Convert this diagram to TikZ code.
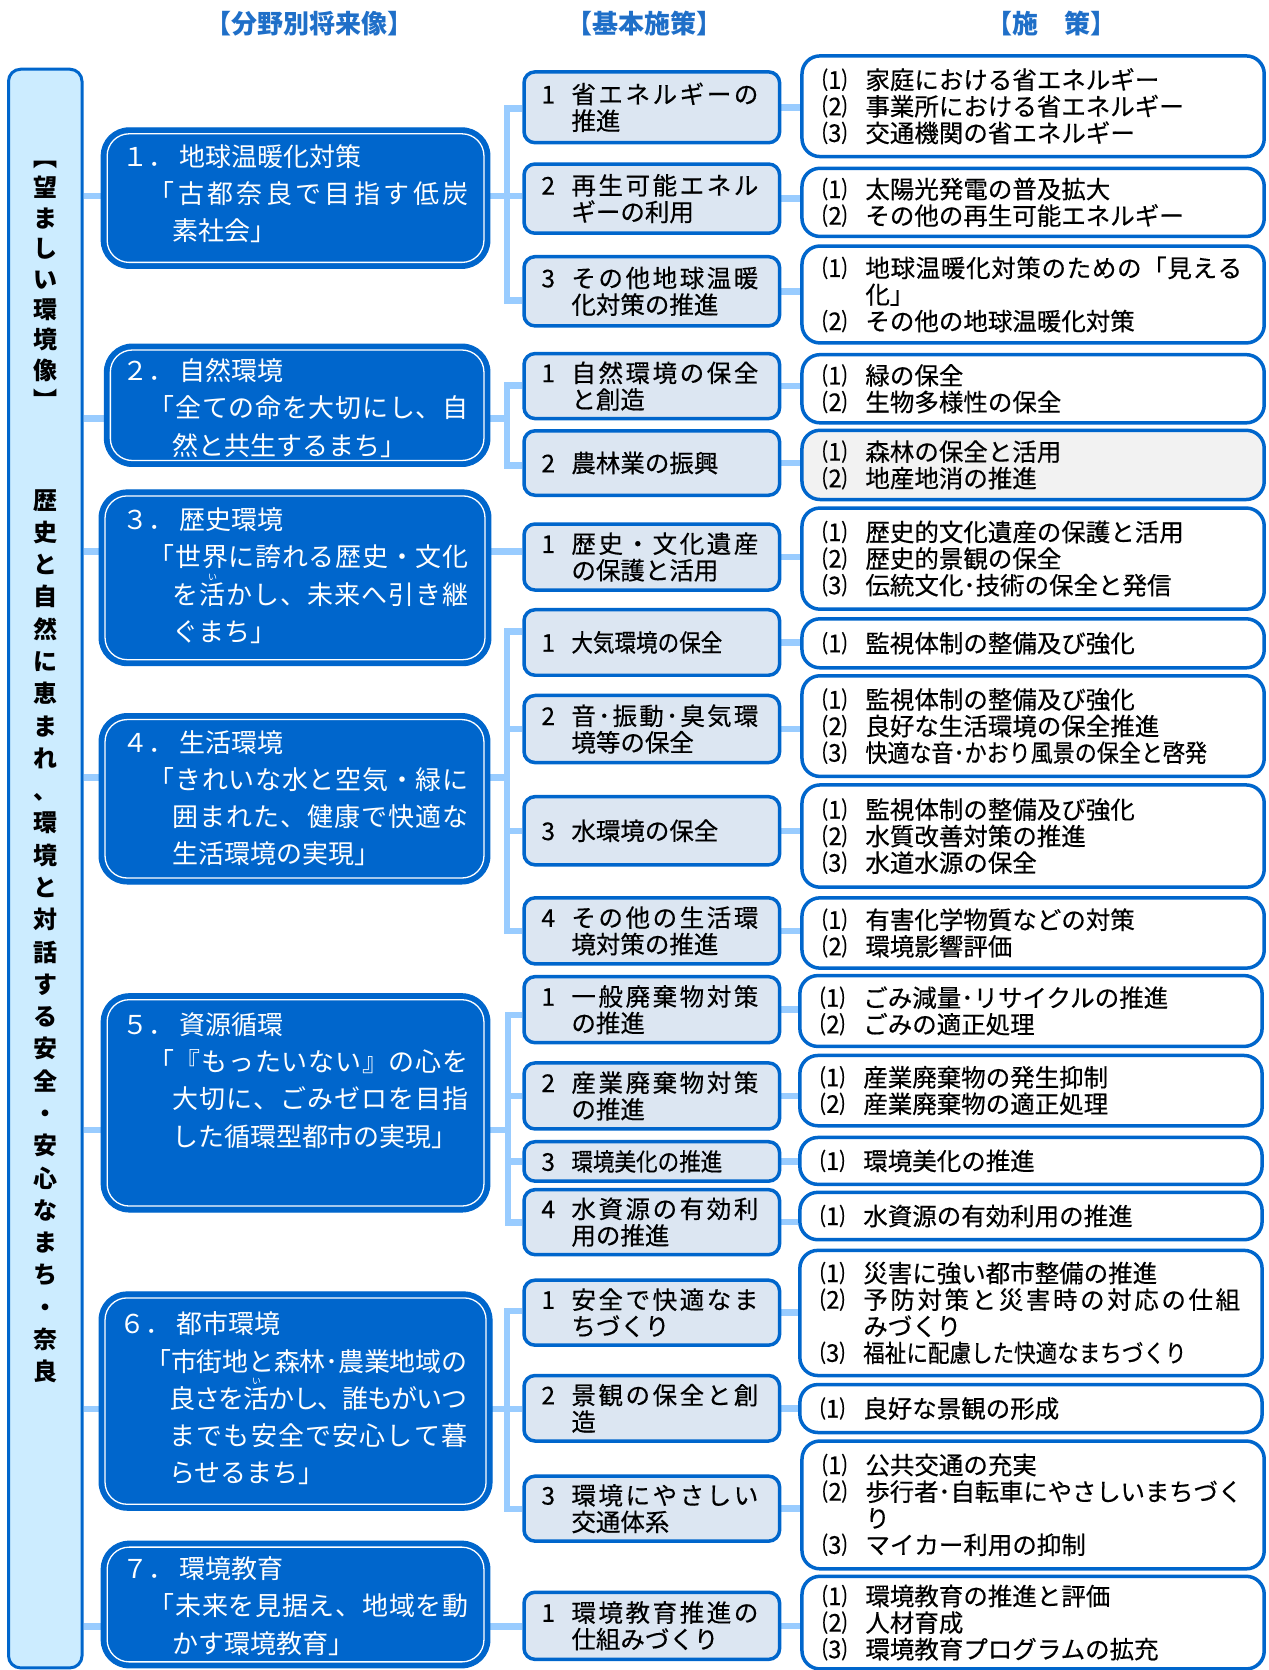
\documentclass[tikz,border=0pt]{standalone}
\usepackage{fontspec}
\usepackage{graphicx}
\setmainfont{Noto Sans CJK JP}
\newfontfamily\blk{Noto Sans CJK JP}[FakeBold=0.4]
\usetikzlibrary{fit}
\pgfdeclarelayer{bg}
\pgfsetlayers{bg,main}
\definecolor{bdr}{HTML}{0066CC}
\definecolor{barfill}{HTML}{CCECFF}
\definecolor{midfill}{HTML}{DCE6F2}
\definecolor{connc}{HTML}{99CCFF}
\definecolor{grayfill}{HTML}{F2F2F2}
\definecolor{hdr}{HTML}{1F6FC8}
\newcommand\jglue{\hskip 0pt plus 1fil minus 4pt\relax}
\def\jfaux#1#2\relax{#1\ifx\relax#2\relax\else\jglue\jfaux#2\relax\fi}
\newcommand\jf[2]{\hbox to #1{\jfaux#2\relax}}
\newcommand\rb[2]{\leavevmode\rlap{\hbox to 1em{\hss\raisebox{0.92em}{\fontsize{9}{9}\selectfont #2}\hss}}#1}
\newcommand\mnum[1]{\makebox[30pt][l]{#1}}
\newcommand\mind{\hspace*{30pt}}
\newcommand\rn[1]{\makebox[43pt][l]{#1}}
\newcommand\rind{\hspace*{43pt}}
\newcommand\bA{\hspace*{26pt}}
\newcommand\bB{\hspace*{50pt}}
\tikzset{
 conn/.style={draw=connc, line width=6.5pt},
 barbox/.style={draw=bdr, line width=3pt, fill=barfill, rounded corners=12pt, inner sep=0pt},
 bluebox/.style={draw=bdr, line width=1pt, fill=bdr, rounded corners=28pt, inner sep=0pt},
 innerw/.style={draw=white, line width=1.3pt, rounded corners=22pt},
 midbox/.style={draw=bdr, line width=3.5pt, fill=midfill, rounded corners=11pt, inner sep=0pt},
 polbox/.style={draw=bdr, line width=3.5pt, fill=white, rounded corners=18pt, inner sep=0pt},
 bluetext/.style={anchor=west, align=left, inner sep=0pt, text=white, font=\fontsize{26}{37.3}\selectfont},
 midtext/.style={anchor=west, align=left, inner sep=0pt, font=\blk\fontsize{24.5}{26.6}\selectfont},
 bartext/.style={align=center, inner sep=0pt, font=\bfseries\fontsize{24}{32.3}\selectfont},
 hdrtext/.style={text=hdr, inner sep=0pt, font=\bfseries\fontsize{26}{28}\selectfont},
}
\begin{document}
\begin{tikzpicture}[x=1.0655pt, y=-1.0655pt]
\useasboundingbox (0,0) rectangle (1191,1568);

% headers
\node[hdrtext] (h1) at (291,22) {【分野別将来像】};
\node[hdrtext] (h2) at (605,22) {【基本施策】};
\node[hdrtext] (h3) at (987,22) {【施　策】};

% left bar
\node[barbox, fit={(8,65) (77,1566)}] (bar) {};
\node[bartext, font=\bfseries\fontsize{24}{30.4}\selectfont] (bt1) at (42.5,268) {︻\\望\\ま\\し\\い\\環\\境\\像\\︼};
\node[bartext] (bt2) at (42.5,879) {歴\\史\\と\\自\\然\\に\\恵\\ま\\れ\\、\\環\\境\\と\\対\\話\\す\\る\\安\\全\\・\\安\\心\\な\\ま\\ち\\・\\奈\\良};

% blue boxes
\node[bluebox, fit={(95,120) (460,252)}] (b1) {};
\node[bluebox, fit={(98,323) (460,438)}] (b2) {};
\node[bluebox, fit={(93,460) (461,625)}] (b3) {};
\node[bluebox, fit={(93,670) (460,830)}] (b4) {};
\node[bluebox, fit={(95,933) (460,1138)}] (b5) {};
\node[bluebox, fit={(93,1213) (462,1418)}] (b6) {};
\node[bluebox, fit={(95,1447) (460,1566)}] (b7) {};
\foreach \n in {b1,b2,b3,b4,b5,b6,b7}
  \draw[innerw] ([shift={(6.5pt,-6.5pt)}]\n.north west) rectangle ([shift={(-6.5pt,6.5pt)}]\n.south east);

\node[bluetext] (b1t) at (115,182) {１．\hspace{5pt}地球温暖化対策\\\bA\jf{320pt}{「古都奈良で目指す低炭}\\\bB 素社会」};
\node[bluetext] (b2t) at (115,383) {２．\hspace{5pt}自然環境\\\bA\jf{320pt}{「全ての命を大切にし、自}\\\bB 然と共生するまち」};
\node[bluetext] (b3t) at (115,540.5) {３．\hspace{5pt}歴史環境\\\bA\jf{320pt}{「世界に誇れる歴史・文化}\\\bB\jf{296pt}{を{\rb{活}{い}}かし、未来へ引き継}\\\bB ぐまち」};
\node[bluetext] (b4t) at (115,749.5) {４．\hspace{5pt}生活環境\\\bA\jf{320pt}{「きれいな水と空気・緑に}\\\bB\jf{296pt}{囲まれた、健康で快適な}\\\bB 生活環境の実現」};
\node[bluetext] (b5t) at (115,1014.5) {５．\hspace{5pt}資源循環\\\bA\jf{320pt}{{「『}もったいない』の心を}\\\bB\jf{296pt}{大切に、ごみゼロを目指}\\\bB\jf{285pt}{した循環型都市の実現」}};
\node[bluetext] (b6t) at (112,1313) {６．\hspace{5pt}都市環境\\\bA\jf{322pt}{「市街地と森林･農業地域の}\\\bB\jf{298pt}{良さを{\rb{活}{い}}かし、誰もがいつ}\\\bB\jf{298pt}{までも安全で安心して暮}\\\bB らせるまち」};
\node[bluetext] (b7t) at (115,1508) {７．\hspace{5pt}環境教育\\\bA\jf{320pt}{「未来を見据え、地域を動}\\\bB かす環境教育」};

% middle boxes
\node[midbox, fit={(492,67.5) (732,134)}] (m11) {};
\node[midbox, fit={(492,154) (732,219)}] (m12) {};
\node[midbox, fit={(492,241) (732,306)}] (m13) {};
\node[midbox, fit={(492,332) (732,393)}] (m21) {};
\node[midbox, fit={(492,404.5) (732,465)}] (m22) {};
\node[midbox, fit={(492,492) (732,554)}] (m31) {};
\node[midbox, fit={(492,572.5) (732,634)}] (m41) {};
\node[midbox, fit={(492,653) (732,716)}] (m42) {};
\node[midbox, fit={(492,748) (732,812)}] (m43) {};
\node[midbox, fit={(492,843) (732,905)}] (m44) {};
\node[midbox, fit={(492,917) (732,979)}] (m51) {};
\node[midbox, fit={(492,998) (732,1060)}] (m52) {};
\node[midbox, fit={(492,1072) (732,1109)}] (m53) {};
\node[midbox, fit={(492,1117) (732,1178)}] (m54) {};
\node[midbox, fit={(492,1202) (732,1263)}] (m61) {};
\node[midbox, fit={(492,1291.5) (732,1353)}] (m62) {};
\node[midbox, fit={(492,1386) (732,1447)}] (m63) {};
\node[midbox, fit={(492,1495) (732,1558)}] (m71) {};

\node[midtext] (m11t) at ([xshift=19pt]m11.west) {\mnum{1}\jf{187pt}{省エネルギーの}\\\mind 推進};
\node[midtext] (m12t) at ([xshift=19pt]m12.west) {\mnum{2}\jf{187pt}{再生可能エネル}\\\mind ギーの利用};
\node[midtext] (m13t) at ([xshift=19pt]m13.west) {\mnum{3}\jf{187pt}{その他地球温暖}\\\mind 化対策の推進};
\node[midtext] (m21t) at ([xshift=19pt]m21.west) {\mnum{1}\jf{187pt}{自然環境の保全}\\\mind と創造};
\node[midtext] (m22t) at ([xshift=19pt]m22.west) {\mnum{2}農林業の振興};
\node[midtext] (m31t) at ([xshift=19pt]m31.west) {\mnum{1}\jf{187pt}{歴史・文化遺産}\\\mind の保護と活用};
\node[midtext] (m41t) at ([xshift=19pt]m41.west) {\mnum{1}\scalebox{0.88}[1]{大気環境の保全}};
\node[midtext] (m42t) at ([xshift=19pt]m42.west) {\mnum{2}\jf{187pt}{音･振動･臭気環}\\\mind 境等の保全};
\node[midtext] (m43t) at ([xshift=19pt]m43.west) {\mnum{3}水環境の保全};
\node[midtext] (m44t) at ([xshift=19pt]m44.west) {\mnum{4}\jf{187pt}{その他の生活環}\\\mind 境対策の推進};
\node[midtext] (m51t) at ([xshift=19pt]m51.west) {\mnum{1}\jf{187pt}{一般廃棄物対策}\\\mind の推進};
\node[midtext] (m52t) at ([xshift=19pt]m52.west) {\mnum{2}\jf{187pt}{産業廃棄物対策}\\\mind の推進};
\node[midtext] (m53t) at ([xshift=19pt]m53.west) {\mnum{3}\scalebox{0.88}[1]{環境美化の推進}};
\node[midtext] (m54t) at ([xshift=19pt]m54.west) {\mnum{4}\jf{187pt}{水資源の有効利}\\\mind 用の推進};
\node[midtext] (m61t) at ([xshift=19pt]m61.west) {\mnum{1}\jf{187pt}{安全で快適なま}\\\mind ちづくり};
\node[midtext] (m62t) at ([xshift=19pt]m62.west) {\mnum{2}\jf{187pt}{景観の保全と創}\\\mind 造};
\node[midtext] (m63t) at ([xshift=19pt]m63.west) {\mnum{3}\jf{187pt}{環境にやさしい}\\\mind 交通体系};
\node[midtext] (m71t) at ([xshift=19pt]m71.west) {\mnum{1}\jf{187pt}{環境教育推進の}\\\mind 仕組みづくり};

% policy boxes
\node[polbox, fit={(753,52.5) (1187,147)}] (r11) {};
\node[polbox, fit={(753,158) (1187,222)}] (r12) {};
\node[polbox, fit={(753,231) (1187,322)}] (r13) {};
\node[polbox, fit={(753,333) (1187,397)}] (r21) {};
\node[polbox, fill=grayfill, fit={(753,404) (1187,469)}] (r22) {};
\node[polbox, fit={(753,477) (1187,572)}] (r31) {};
\node[polbox, fit={(753,581) (1187,627)}] (r41) {};
\node[polbox, fit={(753,634.5) (1187,729)}] (r42) {};
\node[polbox, fit={(753,737) (1187,833)}] (r43) {};
\node[polbox, fit={(753,843) (1187,909)}] (r44) {};
\node[polbox, fit={(751,916) (1185,982.5)}] (r51) {};
\node[polbox, fit={(751,991) (1185,1057)}] (r52) {};
\node[polbox, fit={(751,1068) (1185,1112)}] (r53) {};
\node[polbox, fit={(751,1119.5) (1185,1164)}] (r54) {};
\node[polbox, fit={(751,1174) (1185,1291.5)}] (r61) {};
\node[polbox, fit={(751,1300) (1185,1345)}] (r62) {};
\node[polbox, fit={(753,1353) (1187,1473)}] (r63) {};
\node[polbox, fit={(753,1480) (1187,1567)}] (r71) {};

\node[midtext] (r11t) at ([xshift=22pt]r11.west) {\rn{⑴}家庭における省エネルギー\\\rn{⑵}事業所における省エネルギー\\\rn{⑶}交通機関の省エネルギー};
\node[midtext] (r12t) at ([xshift=22pt]r12.west) {\rn{⑴}太陽光発電の普及拡大\\\rn{⑵}その他の再生可能エネルギー};
\node[midtext] (r13t) at ([xshift=22pt]r13.west) {\rn{⑴}\jf{377pt}{地球温暖化対策のための「見える}\\\rind 化」\\\rn{⑵}その他の地球温暖化対策};
\node[midtext] (r21t) at ([xshift=22pt]r21.west) {\rn{⑴}緑の保全\\\rn{⑵}生物多様性の保全};
\node[midtext] (r22t) at ([xshift=22pt]r22.west) {\rn{⑴}森林の保全と活用\\\rn{⑵}地産地消の推進};
\node[midtext] (r31t) at ([xshift=22pt]r31.west) {\rn{⑴}歴史的文化遺産の保護と活用\\\rn{⑵}歴史的景観の保全\\\rn{⑶}伝統文化･技術の保全と発信};
\node[midtext] (r41t) at ([xshift=22pt]r41.west) {\rn{⑴}監視体制の整備及び強化};
\node[midtext] (r42t) at ([xshift=22pt]r42.west) {\rn{⑴}監視体制の整備及び強化\\\rn{⑵}良好な生活環境の保全推進\\\rn{⑶}\scalebox{0.9}[1]{快適な音･かおり風景の保全と啓発}};
\node[midtext] (r43t) at ([xshift=22pt]r43.west) {\rn{⑴}監視体制の整備及び強化\\\rn{⑵}水質改善対策の推進\\\rn{⑶}水道水源の保全};
\node[midtext] (r44t) at ([xshift=22pt]r44.west) {\rn{⑴}有害化学物質などの対策\\\rn{⑵}環境影響評価};
\node[midtext] (r51t) at ([xshift=22pt]r51.west) {\rn{⑴}ごみ減量･リサイクルの推進\\\rn{⑵}ごみの適正処理};
\node[midtext] (r52t) at ([xshift=22pt]r52.west) {\rn{⑴}産業廃棄物の発生抑制\\\rn{⑵}産業廃棄物の適正処理};
\node[midtext] (r53t) at ([xshift=22pt]r53.west) {\rn{⑴}環境美化の推進};
\node[midtext] (r54t) at ([xshift=22pt]r54.west) {\rn{⑴}水資源の有効利用の推進};
\node[midtext] (r61t) at ([xshift=22pt]r61.west) {\rn{⑴}災害に強い都市整備の推進\\\rn{⑵}\jf{377pt}{予防対策と災害時の対応の仕組}\\\rind みづくり\\\rn{⑶}\scalebox{0.88}[1]{福祉に配慮した快適なまちづくり}};
\node[midtext] (r62t) at ([xshift=22pt]r62.west) {\rn{⑴}良好な景観の形成};
\node[midtext] (r63t) at ([xshift=22pt]r63.west) {\rn{⑴}公共交通の充実\\\rn{⑵}\jf{377pt}{歩行者･自転車にやさしいまちづく}\\\rind り\\\rn{⑶}マイカー利用の抑制};
\node[midtext] (r71t) at ([xshift=22pt]r71.west) {\rn{⑴}環境教育の推進と評価\\\rn{⑵}人材育成\\\rn{⑶}環境教育プログラムの拡充};

% connectors
\begin{pgfonlayer}{bg}
\coordinate (g1a) at (476,102);  \coordinate (g1j) at (476,184);  \coordinate (g1b) at (476,282);
\coordinate (g2a) at (476,362);  \coordinate (g2j) at (476,393);  \coordinate (g2b) at (476,437);
\coordinate (g3j) at (476,518);
\coordinate (g4a) at (476,593);  \coordinate (g4j) at (476,730);  \coordinate (g4b) at (476,874);
\coordinate (g5a) at (477,953);  \coordinate (g5j) at (477,1061); \coordinate (g5b) at (477,1148);
\coordinate (g6a) at (476,1231); \coordinate (g6j) at (476,1323); \coordinate (g6b) at (476,1417);
\coordinate (g7j) at (476,1527);
% bar -> area boxes -> trunk
\foreach \g in {1,2,4,5,6} \draw[conn] (bar.east |- g\g j) -- (g\g j);
\draw[conn] (bar.east |- g3j) -- (g3j -| m31.west);
\draw[conn] (bar.east |- g7j) -- (g7j -| m71.west);
% trunks
\draw[conn] (g1a -| m11.west) -- (g1a) -- (g1b) -- (g1b -| m13.west);
\draw[conn] (g1j) -- (g1j -| m12.west);
\draw[conn] (g2a -| m21.west) -- (g2a) -- (g2b) -- (g2b -| m22.west);
\draw[conn] (g4a -| m41.west) -- (g4a) -- (g4b) -- (g4b -| m44.west);
\draw[conn] (m42.west -| g4a) -- (m42.west);
\draw[conn] (m43.west -| g4a) -- (m43.west);
\draw[conn] (g5a -| m51.west) -- (g5a) -- (g5b) -- (g5b -| m54.west);
\draw[conn] (m52.west -| g5a) -- (m52.west);
\draw[conn] (m53.west -| g5a) -- (m53.west);
\draw[conn] (g6a -| m61.west) -- (g6a) -- (g6b) -- (g6b -| m63.west);
\draw[conn] (g6j) -- (g6j -| m62.west);
% middle -> policy
\foreach \a in {11,12,13,21,22,31,41,42,43,44,51,52,53,54,61,62,63,71}
  \draw[conn] (m\a.east) -- (m\a.east -| r\a.west);
\end{pgfonlayer}
\end{tikzpicture}
\end{document}
